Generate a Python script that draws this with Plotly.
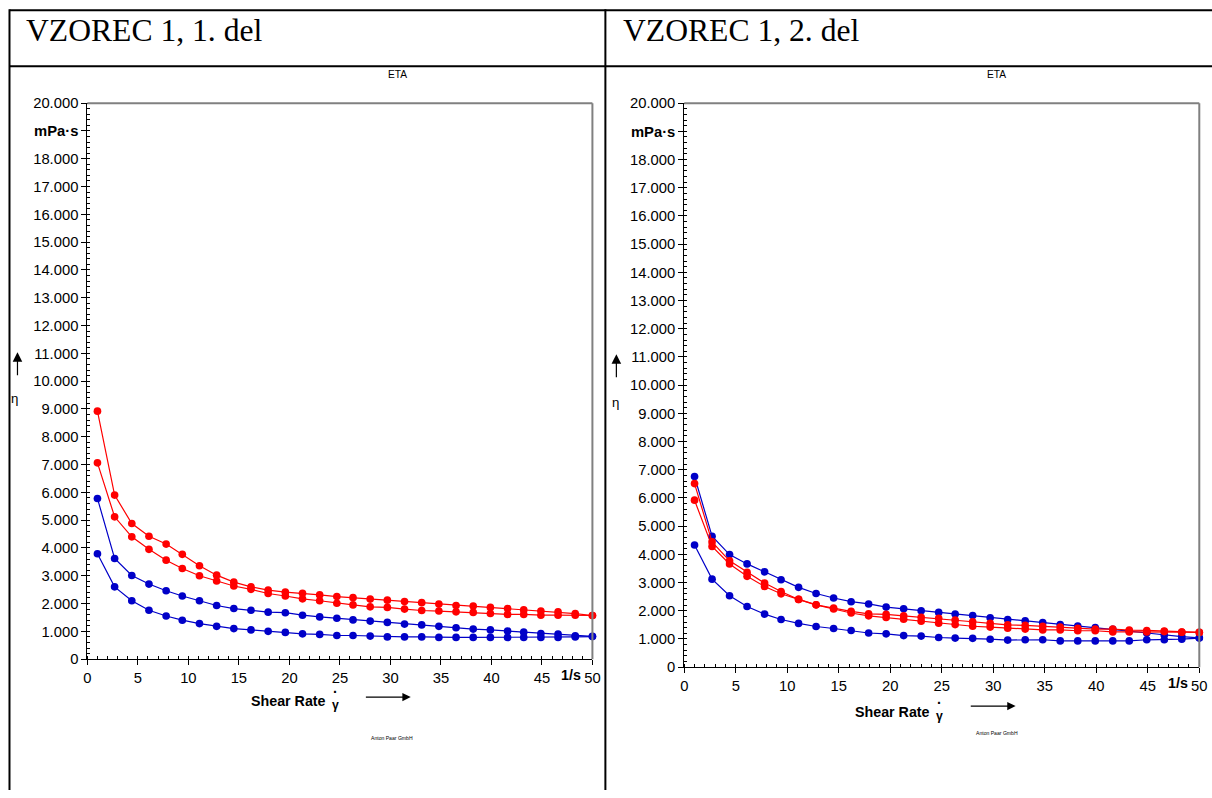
import plotly.graph_objects as go

# The captured page is shown slightly scaled and offset; positions below are given in
# picture pixels and converted to figure fractions.
SX, OX = 0.992, 3.5
SY, MY = 0.98, 8
W, H = 1221, 798

# ---------------- data ----------------
shear_rate = [1.0, 2.7, 4.4, 6.1, 7.8, 9.4, 11.1, 12.8, 14.5, 16.2, 17.9, 19.6, 21.3, 23.0, 24.7,
              26.3, 28.0, 29.7, 31.4, 33.1, 34.8, 36.5, 38.2, 39.9, 41.6, 43.2, 44.9, 46.6, 48.3, 50.0]

left_red_a = [8920, 5900, 4880, 4420, 4140, 3770, 3360, 3020, 2770, 2600, 2480, 2410, 2370, 2310, 2250,
              2210, 2160, 2120, 2070, 2030, 1980, 1930, 1910, 1860, 1820, 1770, 1730, 1700, 1640, 1570]
left_red_b = [7060, 5120, 4400, 3950, 3560, 3260, 3000, 2810, 2630, 2510, 2360, 2270, 2170, 2100, 2010,
              1950, 1880, 1860, 1800, 1750, 1730, 1700, 1680, 1640, 1610, 1610, 1580, 1580, 1580, 1570]
left_blue_a = [5780, 3620, 3010, 2700, 2460, 2270, 2100, 1930, 1820, 1760, 1690, 1670, 1580, 1520, 1470,
               1410, 1370, 1320, 1260, 1230, 1180, 1130, 1080, 1050, 1010, 970, 920, 900, 840, 820]
left_blue_b = [3790, 2600, 2100, 1760, 1550, 1400, 1280, 1180, 1100, 1050, 1000, 960, 910, 890, 850,
               850, 830, 800, 800, 800, 780, 780, 780, 780, 780, 780, 780, 780, 800, 810]

right_blue_a = [6760, 4640, 3990, 3660, 3380, 3100, 2830, 2610, 2450, 2320, 2240, 2130, 2070, 2000, 1940,
                1880, 1830, 1750, 1690, 1640, 1580, 1510, 1460, 1400, 1340, 1280, 1210, 1140, 1080, 1040]
right_blue_b = [4330, 3120, 2530, 2150, 1880, 1690, 1550, 1440, 1370, 1300, 1210, 1180, 1120, 1100, 1050,
                1030, 1020, 990, 960, 970, 970, 930, 930, 930, 930, 930, 970, 970, 990, 1030]
right_red_a = [6510, 4440, 3770, 3360, 2980, 2680, 2400, 2210, 2090, 1980, 1890, 1870, 1820, 1770, 1730,
               1670, 1610, 1550, 1500, 1480, 1450, 1420, 1380, 1350, 1350, 1310, 1300, 1280, 1240, 1230]
right_red_b = [5920, 4280, 3660, 3220, 2860, 2600, 2400, 2210, 2060, 1920, 1820, 1760, 1700, 1630, 1560,
               1510, 1450, 1420, 1380, 1350, 1320, 1320, 1290, 1290, 1250, 1250, 1250, 1260, 1240, 1230]

y_tickvals = list(range(0, 20001, 1000))
y_ticktext = ["0"] + [f"{v // 1000}.000" for v in range(1000, 20001, 1000)]
y_ticktext[19] = "<b>mPa·s</b>"
x_tickvals = [0, 5, 10, 15, 20, 25, 30, 35, 40, 45, 50]
x_ticktext = [str(v) for v in x_tickvals]

panel_titles = ["VZOREC 1, 1. del", "VZOREC 1, 2. del"]

RED = "#FF0000"
BLUE = "#0000C8"


def px(x):
    return ((x - OX) / SX) / W


def py(y):
    return 1 - (y / SY - MY) / H


def fs(size):
    return size / SY


fig = go.Figure()

panels = [
    dict(xa="x", ya="y", dom_x=(87, 593), dom_y=(103, 659),
         series=[(left_red_a, RED), (left_red_b, RED), (left_blue_a, BLUE), (left_blue_b, BLUE)]),
    dict(xa="x2", ya="y2", dom_x=(685, 1201), dom_y=(103, 667),
         series=[(right_blue_a, BLUE), (right_blue_b, BLUE), (right_red_a, RED), (right_red_b, RED)]),
]

for p in panels:
    for vals, col in p["series"]:
        fig.add_trace(go.Scatter(x=shear_rate, y=vals, mode="lines+markers",
                                 line=dict(color=col, width=1.2),
                                 marker=dict(color=col, size=fs(7.5), symbol="circle"),
                                 xaxis=p["xa"], yaxis=p["ya"], showlegend=False,
                                 cliponaxis=False))

tickfont = dict(family="Liberation Sans, Arial", size=fs(14.5), color="black")

axis_common_x = dict(range=[0, 50], tickvals=x_tickvals, ticktext=x_ticktext, showgrid=False,
                     zeroline=False, showline=True, linecolor="black", linewidth=1,
                     ticks="outside", ticklen=5, tickcolor="black", tickfont=tickfont,
                     minor=dict(dtick=1, ticks="inside", ticklen=3, tickcolor="black"),
                     fixedrange=True)
axis_common_y = dict(range=[0, 20000], tickvals=y_tickvals, ticktext=y_ticktext, showgrid=False,
                     zeroline=False, showline=True, linecolor="black", linewidth=1,
                     ticks="outside", ticklen=5, tickcolor="black", tickfont=tickfont,
                     minor=dict(tick0=0, dtick=200, ticks="inside", ticklen=3, tickcolor="black"),
                     fixedrange=True)

fig.update_layout(
    xaxis=dict(domain=[px(87), px(593)], anchor="y", **axis_common_x),
    yaxis=dict(domain=[py(659), py(103)], anchor="x", **axis_common_y),
    xaxis2=dict(domain=[px(685), px(1201)], anchor="y2", **axis_common_x),
    yaxis2=dict(domain=[py(667), py(103)], anchor="x2", **axis_common_y),
)

shapes = []
# table lines
tbl = dict(type="line", xref="paper", yref="paper", line=dict(color="black", width=2))
shapes.append(dict(tbl, x0=px(9), x1=1, y0=py(10), y1=py(10)))
shapes.append(dict(tbl, x0=px(9), x1=1, y0=py(66), y1=py(66)))
shapes.append(dict(tbl, x0=px(9), x1=px(9), y0=py(9), y1=0))
shapes.append(dict(tbl, x0=px(606), x1=px(606), y0=py(9), y1=0))

# plot frames: gray top and right
for p in panels:
    x0, x1 = p["dom_x"]
    y0, y1 = p["dom_y"]
    shapes.append(dict(type="line", xref="paper", yref="paper", x0=px(x0), x1=px(x1),
                       y0=py(y0), y1=py(y0), line=dict(color="#808080", width=2)))
    shapes.append(dict(type="line", xref="paper", yref="paper", x0=px(x1), x1=px(x1),
                       y0=py(y0), y1=py(y1), line=dict(color="#808080", width=2)))
fig.update_layout(shapes=shapes)

ann = []
title_font = dict(family="Liberation Serif, Times New Roman", size=fs(31), color="black")
ann.append(dict(x=px(24), y=py(30), text=panel_titles[0], xanchor="left", yanchor="middle",
                font=title_font))
ann.append(dict(x=px(622), y=py(30), text=panel_titles[1], xanchor="left", yanchor="middle",
                font=title_font))

small = dict(family="Liberation Sans, Arial", size=fs(10), color="black")
bold14 = dict(family="Liberation Sans, Arial", size=fs(14), color="black")

panel_text = [
    dict(eta=(398, 74), etaax=(14, 398), yarrow=(17, 376, 352), unit_x=47.9, unit_y=675,
         sr=(328, 701), gam=(336, 705), dot=(336, 692), xarrow=(365, 411, 697), anton=(392, 738),
         xref="x"),
    dict(eta=(998, 74), etaax=(616, 402), yarrow=(617, 378, 354), unit_x=47.9, unit_y=683,
         sr=(933, 712), gam=(941, 716), dot=(941, 703), xarrow=(971, 1017, 706), anton=(998, 733),
         xref="x2"),
]

for t in panel_text:
    ann.append(dict(x=px(t["eta"][0]), y=py(t["eta"][1]), text="ETA", font=small,
                    xanchor="center", yanchor="middle"))
    ann.append(dict(x=px(t["etaax"][0]), y=py(t["etaax"][1]), text="η",
                    font=dict(family="Liberation Sans, Arial", size=fs(13), color="black"),
                    xanchor="center", yanchor="middle"))
    ax_, yb, yt = t["yarrow"]
    ann.append(dict(x=px(ax_), y=py(yt), xref="paper", yref="paper", text="", showarrow=True,
                    axref="pixel", ayref="pixel", ax=0, ay=(yb - yt) / SY, arrowhead=2,
                    arrowsize=1.6, arrowwidth=1.2, arrowcolor="black"))
    ann.append(dict(x=t["unit_x"], xref=t["xref"], y=py(t["unit_y"]), yref="paper",
                    text="<b>1/s</b>", font=bold14, xanchor="center", yanchor="middle"))
    ann.append(dict(x=px(t["sr"][0]), y=py(t["sr"][1]), text="<b>Shear Rate</b>", font=bold14,
                    xanchor="right", yanchor="middle"))
    ann.append(dict(x=px(t["gam"][0]), y=py(t["gam"][1]), text="<b>γ</b>",
                    font=dict(family="Liberation Sans, Arial", size=fs(12), color="black"),
                    xanchor="center", yanchor="middle"))
    ann.append(dict(x=px(t["dot"][0]), y=py(t["dot"][1]), text="<b>·</b>",
                    font=dict(family="Liberation Sans, Arial", size=fs(14), color="black"),
                    xanchor="center", yanchor="middle"))
    xa0, xa1, ya = t["xarrow"]
    ann.append(dict(x=px(xa1), y=py(ya), text="", showarrow=True, axref="pixel", ayref="pixel",
                    ax=-(xa1 - xa0) / SX, ay=0, arrowhead=2, arrowsize=1.4, arrowwidth=1.2,
                    arrowcolor="black"))
    ann.append(dict(x=px(t["anton"][0]), y=py(t["anton"][1]), text="Anton Paar GmbH",
                    font=dict(family="Liberation Sans, Arial", size=fs(5), color="black"),
                    xanchor="center", yanchor="middle"))

for a in ann:
    a.setdefault("xref", "paper")
    a.setdefault("yref", "paper")
    a.setdefault("showarrow", False)
fig.update_layout(annotations=ann)

fig.update_layout(width=W, height=H, margin=dict(l=0, r=0, t=0, b=0),
                  paper_bgcolor="white", plot_bgcolor="white", showlegend=False)

fig.write_html("out.html", include_plotlyjs=True, config={"displayModeBar": False})
